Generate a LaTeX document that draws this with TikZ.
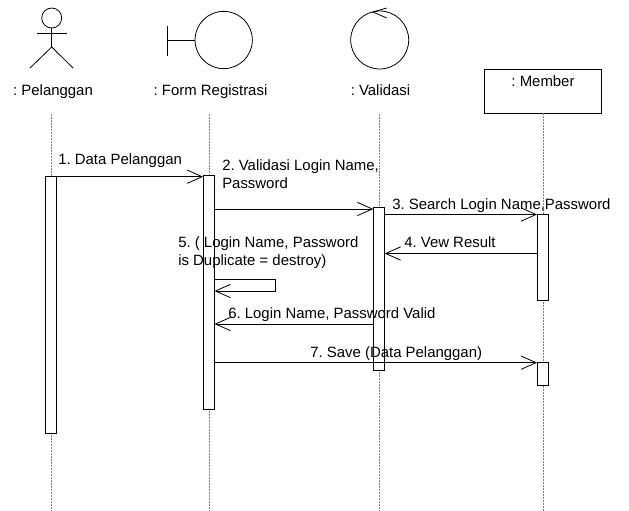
\documentclass[tikz,border=0pt]{standalone}
\usepackage{fontspec}
\setmainfont{Liberation Sans}
\usetikzlibrary{arrows.meta}
\tikzstyle{txt} = [inner sep=0pt, align=left, font=\fontsize{11.2}{14}\selectfont\frenchspacing]
\tikzstyle{life} = [gray, line width=0.4pt, dash pattern=on 1.5pt off 0.75pt]
\tikzstyle{activation} = [draw, fill=white, line width=0.6pt, minimum width=7.9pt, inner sep=0pt]
\tikzstyle{msg} = [line width=0.6pt, -{Straight Barb[length=11.25pt, width=10pt, line width=0.6pt]}]
\tikzstyle{round} = [draw, circle, line width=0.6pt, inner sep=0pt]

\begin{document}
\begin{tikzpicture}[x=0.75pt, y=-0.75pt]
    \useasboundingbox (0,0) rectangle (629,511);

    % actor
    \node[round, minimum size=15pt](head) at (51.7,18){};
    \coordinate (hip) at (51.7,47);
    \coordinate (armL) at (36.5,33);
    \coordinate (armR) at (67,33);
    \coordinate (footL) at (30,68);
    \coordinate (footR) at (73,68);
    \draw[line width=0.6pt] (head) -- (hip);
    \draw[line width=0.6pt] (armL) -- (armR);
    \draw[line width=0.6pt] (footL) -- (hip) -- (footR);

    % boundary
    \node[round, minimum size=43pt](boundary) at (223.7,40){};
    \coordinate (stem) at (167.5,40);
    \coordinate (stemT) at (167.5,26);
    \coordinate (stemB) at (167.5,56);
    \draw[line width=0.6pt] (boundary) -- (stem);
    \draw[line width=0.6pt] (stemT) -- (stemB);

    % control
    \node[round, minimum size=43.5pt](control) at (379.7,40){};
    \coordinate (tip) at (373,12);
    \coordinate (tipT) at (386.7,8);
    \coordinate (tipB) at (386.7,18);
    \draw[line width=0.6pt] (tipT) -- (tip) -- (tipB);

    % heads
    \node[txt, anchor=base](pelanggan) at (53,95.7){: Pelanggan};
    \node[txt, anchor=base](form) at (210.5,95.7){: Form Registrasi};
    \node[txt, anchor=base](validasi) at (380.5,95.7){: Validasi};
    \node[draw, line width=0.6pt, minimum width=87.75pt, minimum height=33pt, inner sep=0pt](member) at (542.5,91){};
    \node[txt, anchor=base](membertxt) at (543,86){: Member};

    % lifelines
    \coordinate (endA) at (51.7,511);
    \coordinate (endB) at (209.5,511);
    \coordinate (endC) at (379.5,511);
    \coordinate (endD) at (543.3,511);
    \draw[life] (endA |- 0,114) -- (endA);
    \draw[life] (endB |- 0,114) -- (endB);
    \draw[life] (endC |- 0,114) -- (endC);
    \draw[life] (member.south -| endD) -- (endD);

    % activations
    \node[activation, minimum height=192.75pt](barA) at (51.1,304.5){};
    \node[activation, minimum height=175.5pt](barB) at (208.8,292){};
    \node[activation, minimum height=122.5pt](barC) at (379,289.1){};
    \node[activation, minimum height=64.5pt](barD) at (542.7,257.2){};
    \node[activation, minimum height=17.25pt](barE) at (542.7,373.8){};

    % messages
    \draw[msg] (barA.east |- 0,176.7) -- (barB.west |- 0,176.7);
    \draw[msg] (barB.east |- 0,209) -- (barC.west |- 0,209);
    \draw[msg] (barC.east |- 0,214.5) -- (barD.west |- 0,214.5);
    \draw[msg] (barD.west |- 0,253.5) -- (barC.east |- 0,253.5);
    \draw[msg] (barB.east |- 0,279) -- (275.3,279) -- (275.3,291) -- (barB.east |- 0,291);
    \draw[msg] (barC.west |- 0,324) -- (barB.east |- 0,324);
    \draw[msg] (barB.east |- 0,362.7) -- (barE.west |- 0,362.7);

    % message texts
    \node[txt, anchor=base west](m1) at (58,164){1. Data Pelanggan};
    \node[txt, anchor=base west](m2) at (222,170){2. Validasi Login Name,};
    \node[txt, anchor=base west](m2b) at (222,188.7){Password};
    \node[txt, anchor=base west](m3) at (392,209){3. Search Login Name,Password};
    \node[txt, anchor=base west](m4) at (404,247){4. Vew Result};
    \node[txt, anchor=base west](m5) at (178,247){5. ( Login Name, Password};
    \node[txt, anchor=base west](m5b) at (178,265.7){is Duplicate = destroy)};
    \node[txt, anchor=base west](m6) at (228,318){6. Login Name, Password Valid};
    \node[txt, anchor=base west](m7) at (310,357){7. Save (Data Pelanggan)};
\end{tikzpicture}
\end{document}
